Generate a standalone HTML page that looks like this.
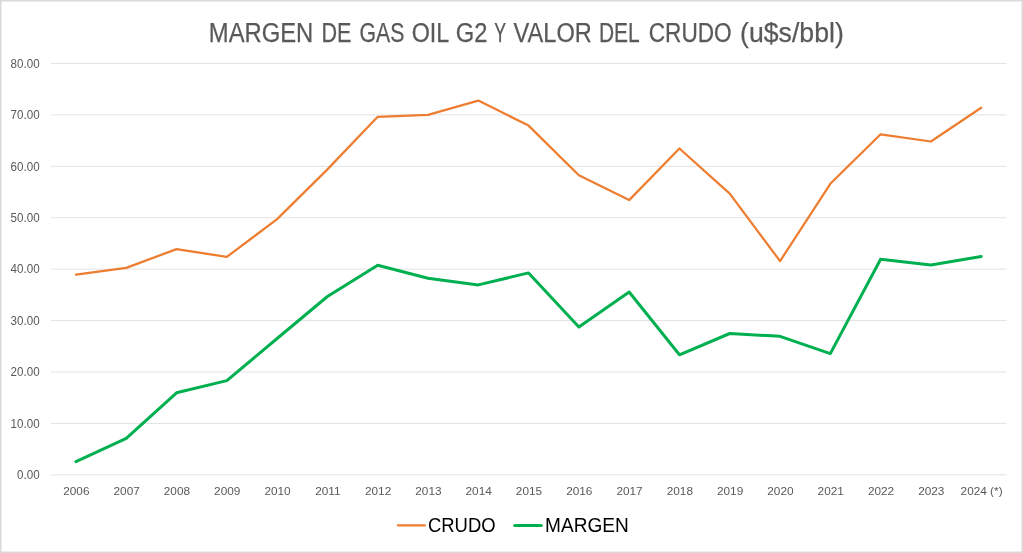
<!DOCTYPE html>
<html><head><meta charset="utf-8"><title>Margen de Gas Oil G2 y Valor del Crudo</title>
<style>
html,body{margin:0;padding:0;background:#fff;}
body{width:1023px;height:553px;overflow:hidden;font-family:"Liberation Sans", sans-serif;}
svg{display:block;will-change:transform;}
</style></head><body>
<svg width="1023" height="553" viewBox="0 0 1023 553" font-family='"Liberation Sans", sans-serif'>
<rect x="0" y="0" width="1023" height="553" fill="#fff"/>
<rect x="0.75" y="0.75" width="1021.5" height="551.5" fill="none" stroke="#d9d9d9" stroke-width="1.5"/>
<g font-size="26.8" fill="#595959" stroke="#595959" stroke-width="0.25">
<text x="208.81" y="41.6" textLength="104.53" lengthAdjust="spacingAndGlyphs">MARGEN</text>
<text x="321.39" y="41.6" textLength="29.99" lengthAdjust="spacingAndGlyphs">DE</text>
<text x="359.51" y="41.6" textLength="44.86" lengthAdjust="spacingAndGlyphs">GAS</text>
<text x="411.63" y="41.6" textLength="37.65" lengthAdjust="spacingAndGlyphs">OIL</text>
<text x="455.71" y="41.6" textLength="31.65" lengthAdjust="spacingAndGlyphs">G2</text>
<text x="494.2" y="41.6" textLength="11.82" lengthAdjust="spacingAndGlyphs">Y</text>
<text x="513.6" y="41.6" textLength="78.16" lengthAdjust="spacingAndGlyphs">VALOR</text>
<text x="598.92" y="41.6" textLength="40.79" lengthAdjust="spacingAndGlyphs">DEL</text>
<text x="648.76" y="41.6" textLength="82.97" lengthAdjust="spacingAndGlyphs">CRUDO</text>
<text x="740.11" y="41.6" textLength="103.65" lengthAdjust="spacingAndGlyphs">(u$s/bbl)</text>
</g>
<line x1="50.8" y1="63.45" x2="1006.3" y2="63.45" stroke="#e3e3e3" stroke-width="1"/>
<line x1="50.8" y1="114.88" x2="1006.3" y2="114.88" stroke="#e3e3e3" stroke-width="1"/>
<line x1="50.8" y1="166.30" x2="1006.3" y2="166.30" stroke="#e3e3e3" stroke-width="1"/>
<line x1="50.8" y1="217.72" x2="1006.3" y2="217.72" stroke="#e3e3e3" stroke-width="1"/>
<line x1="50.8" y1="269.15" x2="1006.3" y2="269.15" stroke="#e3e3e3" stroke-width="1"/>
<line x1="50.8" y1="320.57" x2="1006.3" y2="320.57" stroke="#e3e3e3" stroke-width="1"/>
<line x1="50.8" y1="372.00" x2="1006.3" y2="372.00" stroke="#e3e3e3" stroke-width="1"/>
<line x1="50.8" y1="423.42" x2="1006.3" y2="423.42" stroke="#e3e3e3" stroke-width="1"/>
<line x1="50.8" y1="474.85" x2="1006.3" y2="474.85" stroke="#e3e3e3" stroke-width="1"/>
<text x="39.6" y="67.75" font-size="12.6" fill="#595959" text-anchor="end" textLength="29.02" lengthAdjust="spacingAndGlyphs">80.00</text>
<text x="39.6" y="119.17" font-size="12.6" fill="#595959" text-anchor="end" textLength="29.02" lengthAdjust="spacingAndGlyphs">70.00</text>
<text x="39.6" y="170.60" font-size="12.6" fill="#595959" text-anchor="end" textLength="29.02" lengthAdjust="spacingAndGlyphs">60.00</text>
<text x="39.6" y="222.02" font-size="12.6" fill="#595959" text-anchor="end" textLength="29.02" lengthAdjust="spacingAndGlyphs">50.00</text>
<text x="39.6" y="273.45" font-size="12.6" fill="#595959" text-anchor="end" textLength="29.02" lengthAdjust="spacingAndGlyphs">40.00</text>
<text x="39.6" y="324.88" font-size="12.6" fill="#595959" text-anchor="end" textLength="29.02" lengthAdjust="spacingAndGlyphs">30.00</text>
<text x="39.6" y="376.30" font-size="12.6" fill="#595959" text-anchor="end" textLength="29.02" lengthAdjust="spacingAndGlyphs">20.00</text>
<text x="39.6" y="427.72" font-size="12.6" fill="#595959" text-anchor="end" textLength="29.02" lengthAdjust="spacingAndGlyphs">10.00</text>
<text x="39.6" y="479.15" font-size="12.6" fill="#595959" text-anchor="end" textLength="22.57" lengthAdjust="spacingAndGlyphs">0.00</text>
<text x="76.37" y="494.9" font-size="11.8" fill="#595959" text-anchor="middle">2006</text>
<text x="126.66" y="494.9" font-size="11.8" fill="#595959" text-anchor="middle">2007</text>
<text x="176.95" y="494.9" font-size="11.8" fill="#595959" text-anchor="middle">2008</text>
<text x="227.24" y="494.9" font-size="11.8" fill="#595959" text-anchor="middle">2009</text>
<text x="277.53" y="494.9" font-size="11.8" fill="#595959" text-anchor="middle">2010</text>
<text x="327.82" y="494.9" font-size="11.8" fill="#595959" text-anchor="middle">2011</text>
<text x="378.11" y="494.9" font-size="11.8" fill="#595959" text-anchor="middle">2012</text>
<text x="428.40" y="494.9" font-size="11.8" fill="#595959" text-anchor="middle">2013</text>
<text x="478.69" y="494.9" font-size="11.8" fill="#595959" text-anchor="middle">2014</text>
<text x="528.98" y="494.9" font-size="11.8" fill="#595959" text-anchor="middle">2015</text>
<text x="579.27" y="494.9" font-size="11.8" fill="#595959" text-anchor="middle">2016</text>
<text x="629.56" y="494.9" font-size="11.8" fill="#595959" text-anchor="middle">2017</text>
<text x="679.85" y="494.9" font-size="11.8" fill="#595959" text-anchor="middle">2018</text>
<text x="730.14" y="494.9" font-size="11.8" fill="#595959" text-anchor="middle">2019</text>
<text x="780.43" y="494.9" font-size="11.8" fill="#595959" text-anchor="middle">2020</text>
<text x="830.72" y="494.9" font-size="11.8" fill="#595959" text-anchor="middle">2021</text>
<text x="881.01" y="494.9" font-size="11.8" fill="#595959" text-anchor="middle">2022</text>
<text x="931.30" y="494.9" font-size="11.8" fill="#595959" text-anchor="middle">2023</text>
<text x="981.59" y="494.9" font-size="11.8" fill="#595959" text-anchor="middle">2024 (*)</text>
<polyline points="75.97,274.60 126.26,267.90 176.55,249.10 226.84,256.90 277.13,219.10 327.42,169.40 377.71,116.80 428.00,114.90 478.29,100.60 528.58,125.60 578.87,175.30 629.16,200.10 679.45,148.50 729.74,193.60 780.03,261.10 830.32,183.80 880.61,134.30 930.90,141.50 981.19,107.80" fill="none" stroke="#ED7D31" stroke-width="2.25" stroke-linejoin="round" stroke-linecap="round"/>
<polyline points="75.97,461.70 126.26,438.40 176.55,392.80 226.84,380.60 277.13,338.50 327.42,296.50 377.71,265.30 428.00,278.30 478.29,284.90 528.58,272.90 578.87,327.10 629.16,292.00 679.45,354.80 729.74,333.50 780.03,336.30 830.32,353.60 880.61,259.30 930.90,264.90 981.19,256.40" fill="none" stroke="#00B050" stroke-width="3" stroke-linejoin="round" stroke-linecap="round"/>
<line x1="397.9" y1="525.3" x2="424.9" y2="525.3" stroke="#ED7D31" stroke-width="2.25" stroke-linecap="round"/>
<text x="428" y="532.3" font-size="20.8" fill="#000" textLength="67.6" lengthAdjust="spacingAndGlyphs">CRUDO</text>
<line x1="514.7" y1="525.5" x2="541.3" y2="525.5" stroke="#00B050" stroke-width="3" stroke-linecap="round"/>
<text x="545.1" y="532.3" font-size="20.9" fill="#000" textLength="83.6" lengthAdjust="spacingAndGlyphs">MARGEN</text>
</svg>
</body></html>
